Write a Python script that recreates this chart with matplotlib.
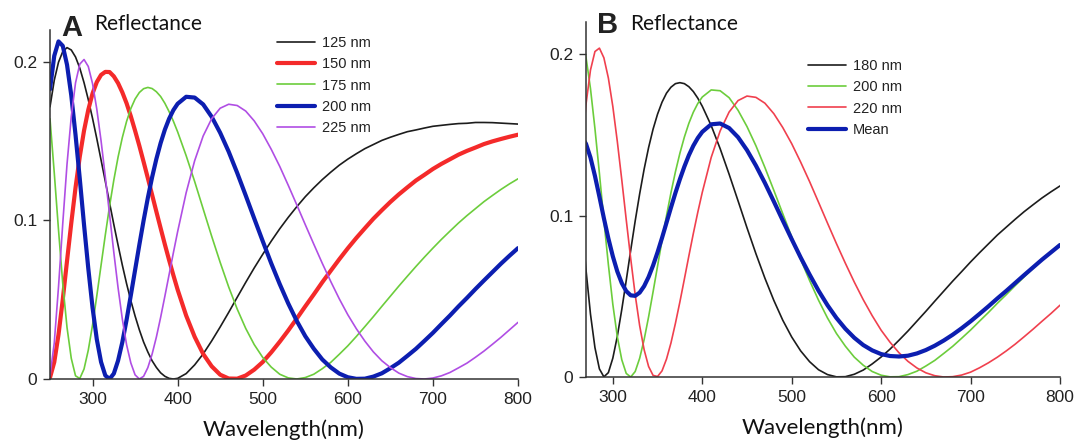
import matplotlib
matplotlib.use("Agg")
import matplotlib.pyplot as plt

# wavelength grid (nm)
wl = [250, 255, 260, 265, 270, 275, 280, 285, 290, 295, 300, 305, 310, 315, 320,
      325, 330, 335, 340, 345, 350, 355, 360, 365, 370, 375, 380, 385, 390, 395, 400,
      410, 420, 430, 440, 450, 460, 470, 480, 490, 500, 510, 520, 530, 540, 550,
      560, 570, 580, 590, 600, 610, 620, 630, 640, 650, 660, 670, 680, 690, 700,
      710, 720, 730, 740, 750, 760, 770, 780, 790, 800]

# reflectance
r125 = [.1716, .1883, .1997, .2064, .2089, .2074, .2030, .1960, .1868, .1761, .1643,
        .1515, .1381, .1246, .1110, .0974, .0844, .0718, .0601, .0494, .0397, .0310,
        .0233, .0170, .0115, .0073, .0039, .0017, .0004, .0000, .0004,
        .0034, .0089, .0158, .0240, .0328, .0420, .0515, .0609, .0700, .0786, .0869,
        .0947, .1019, .1086, .1149, .1205, .1257, .1304, .1348, .1386, .1420, .1452,
        .1478, .1504, .1524, .1542, .1559, .1570, .1582, .1593, .1599, .1605, .1610,
        .1612, .1617, .1617, .1616, .1613, .1610, .1607]
r150 = [.0009, .0106, .0280, .0501, .0744, .0983, .1206, .1402, .1566, .1697, .1800,
        .1872, .1917, .1936, .1935, .1908, .1865, .1807, .1738, .1656, .1565, .1470,
        .1369, .1266, .1161, .1055, .0951, .0848, .0749, .0654, .0563,
        .0400, .0266, .0158, .0080, .0027, .0003, .0002, .0022, .0059, .0107, .0168,
        .0235, .0306, .0381, .0458, .0533, .0610, .0683, .0755, .0824, .0889, .0950,
        .1010, .1064, .1116, .1164, .1208, .1251, .1287, .1324, .1356, .1385, .1414,
        .1438, .1459, .1481, .1498, .1513, .1527, .1540]
r175 = [.1640, .1300, .0940, .0600, .0325, .0130, .0020, .0003, .0063, .0182, .0340,
        .0524, .0717, .0908, .1090, .1254, .1399, .1522, .1624, .1705, .1765, .1806,
        .1830, .1838, .1831, .1811, .1781, .1738, .1685, .1625, .1558,
        .1408, .1245, .1072, .0900, .0735, .0580, .0441, .0319, .0217, .0136, .0075,
        .0030, .0007, .0000, .0009, .0030, .0065, .0105, .0156, .0209, .0268, .0330,
        .0393, .0458, .0522, .0586, .0648, .0709, .0768, .0825, .0880, .0932, .0983,
        .1030, .1074, .1118, .1157, .1195, .1230, .1262]
r200 = [.1826, .2037, .2128, .2100, .1981, .1788, .1539, .1262, .0972, .0697, .0450,
        .0250, .0107, .0022, .0000, .0034, .0116, .0232, .0373, .0528, .0687, .0846,
        .0999, .1142, .1272, .1387, .1487, .1572, .1641, .1695, .1735,
        .1779, .1774, .1731, .1653, .1552, .1433, .1299, .1157, .1012, .0869, .0729,
        .0598, .0476, .0366, .0270, .0191, .0123, .0073, .0034, .0011, .0001, .0002,
        .0015, .0036, .0068, .0103, .0146, .0190, .0240, .0291, .0346, .0400, .0457,
        .0511, .0567, .0621, .0674, .0727, .0777, .0825]
r225 = [.0021, .0227, .0581, .0981, .1354, .1654, .1867, .1985, .2014, .1970, .1862,
        .1701, .1502, .1275, .1037, .0798, .0575, .0378, .0216, .0101, .0026, .0000,
        .0017, .0072, .0157, .0264, .0388, .0522, .0659, .0796, .0929,
        .1174, .1376, .1532, .1641, .1707, .1732, .1724, .1689, .1627, .1546, .1448,
        .1340, .1221, .1098, .0973, .0850, .0729, .0614, .0505, .0405, .0317, .0239,
        .0171, .0115, .0072, .0037, .0015, .0003, .0000, .0006, .0020, .0041, .0070,
        .0100, .0137, .0176, .0219, .0263, .0310, .0357]

# panel B (200 nm is the same curve as in panel A)
r180 = [.1916, .1645, .1322, .0985, .0664, .0390, .0182, .0050, .0001, .0027, .0117,
        .0252, .0418, .0599, .0786, .0967, .1135, .1288, .1422, .1536, .1629, .1703,
        .1759, .1796, .1818, .1824, .1818, .1799, .1769, .1728, .1678,
        .1558, .1415, .1257, .1092, .0925, .0764, .0613, .0475, .0352, .0248, .0162,
        .0095, .0045, .0015, .0001, .0002, .0017, .0043, .0081, .0124, .0173, .0228,
        .0285, .0346, .0407, .0470, .0532, .0594, .0653, .0713, .0770, .0825, .0880,
        .0929, .0978, .1025, .1068, .1110, .1148, .1184]
r220 = [.0221, .0583, .0999, .1382, .1690, .1902, .2017, .2038, .1978, .1853, .1676,
        .1460, .1222, .0974, .0733, .0509, .0318, .0169, .0065, .0010, .0003, .0038,
        .0111, .0211, .0333, .0466, .0607, .0750, .0889, .1021, .1144,
        .1361, .1525, .1642, .1713, .1741, .1733, .1697, .1632, .1546, .1446, .1332,
        .1211, .1083, .0954, .0827, .0705, .0588, .0479, .0380, .0290, .0215, .0150,
        .0097, .0056, .0026, .0008, .0000, .0002, .0012, .0030, .0057, .0088, .0123,
        .0162, .0204, .0250, .0297, .0346, .0394, .0445]
rmean = [.1321, .1422, .1483, .1489, .1445, .1360, .1246, .1117, .0984, .0859, .0748,
         .0654, .0582, .0532, .0506, .0503, .0523, .0563, .0620, .0691, .0773, .0862,
         .0956, .1050, .1141, .1226, .1304, .1374, .1433, .1481, .1519,
         .1566, .1571, .1543, .1486, .1406, .1310, .1203, .1088, .0970, .0854, .0741,
         .0635, .0535, .0445, .0366, .0299, .0243, .0198, .0165, .0142, .0130, .0127,
         .0132, .0146, .0167, .0194, .0226, .0262, .0302, .0345, .0391, .0438, .0487,
         .0534, .0583, .0632, .0680, .0728, .0773, .0818]

xticks = [300, 400, 500, 600, 700, 800]
yticks = [0, 0.1, 0.2]
yticklabels = ["0", "0.1", "0.2"]

BLACK = "#1c1c1c"
RED = "#f42a2a"
GREEN = "#6ccd3c"
BLUE = "#0c1eb0"
PURPLE = "#b04ee4"
PINK = "#f0404e"

tick_font = "Liberation Sans"
label_font = ["Lato", "DejaVu Sans"]

fig = plt.figure(figsize=(10.83, 4.44), dpi=100)
axA = fig.add_axes([50 / 1083, 65 / 444, 468 / 1083, 349 / 444])
axB = fig.add_axes([586 / 1083, 67 / 444, 474 / 1083, 355 / 444])

line_kw = dict(solid_joinstyle="round", solid_capstyle="round")
axA.plot(wl, r125, color=BLACK, lw=1.2, label="125 nm", **line_kw)
axA.plot(wl, r150, color=RED, lw=3.0, label="150 nm", **line_kw)
axA.plot(wl, r175, color=GREEN, lw=1.2, label="175 nm", **line_kw)
axA.plot(wl, r200, color=BLUE, lw=3.0, label="200 nm", **line_kw)
axA.plot(wl, r225, color=PURPLE, lw=1.2, label="225 nm", **line_kw)

axB.plot(wl, r180, color=BLACK, lw=1.2, label="180 nm", **line_kw)
axB.plot(wl, r200, color=GREEN, lw=1.2, label="200 nm", **line_kw)
axB.plot(wl, r220, color=PINK, lw=1.2, label="220 nm", **line_kw)
axB.plot(wl, rmean, color=BLUE, lw=3.0, label="Mean", **line_kw)

for ax, xmin in ((axA, 250), (axB, 270)):
    ax.set_xlim(xmin, 800)
    ax.set_ylim(0, 0.22)
    ax.spines["top"].set_visible(False)
    ax.spines["right"].set_visible(False)
    for s in ("left", "bottom"):
        ax.spines[s].set_linewidth(1.1)
        ax.spines[s].set_color("#333333")
    ax.set_xticks(xticks)
    ax.set_yticks(yticks)
    ax.set_yticklabels(yticklabels)
    ax.tick_params(direction="out", length=5, width=1, color="#333333",
                   labelsize=12.5, labelcolor="#222222", pad=4)
    for t in ax.get_xticklabels() + ax.get_yticklabels():
        t.set_fontfamily(tick_font)
    ax.set_xlabel("Wavelength(nm)", fontsize=16, family=label_font,
                  color="#111111", labelpad=9)

leg_kw = dict(loc="upper left", bbox_transform=fig.transFigure, frameon=False,
              borderpad=0, borderaxespad=0, handlelength=2.6, handletextpad=0.5,
              labelspacing=0.5, prop={"family": tick_font, "size": 10.5})
legA = axA.legend(bbox_to_anchor=(277 / 1083, 1 - 36 / 444), **leg_kw)
legB = axB.legend(bbox_to_anchor=(808 / 1083, 1 - 59 / 444), **leg_kw)
for leg in (legA, legB):
    for t in leg.get_texts():
        t.set_color("#222222")

fig.text(61 / 1083, 1 - 36 / 444, "A", fontsize=21, fontweight="heavy",
         family=tick_font, va="baseline", color="#222222")
fig.text(94 / 1083, 1 - 30 / 444, "Reflectance", fontsize=15, family=label_font,
         va="baseline", color="#111111")
fig.text(597 / 1083, 1 - 33 / 444, "B", fontsize=21, fontweight="heavy",
         family=tick_font, va="baseline", color="#222222")
fig.text(630 / 1083, 1 - 30 / 444, "Reflectance", fontsize=15, family=label_font,
         va="baseline", color="#111111")

fig.savefig("out.png", dpi=100)
